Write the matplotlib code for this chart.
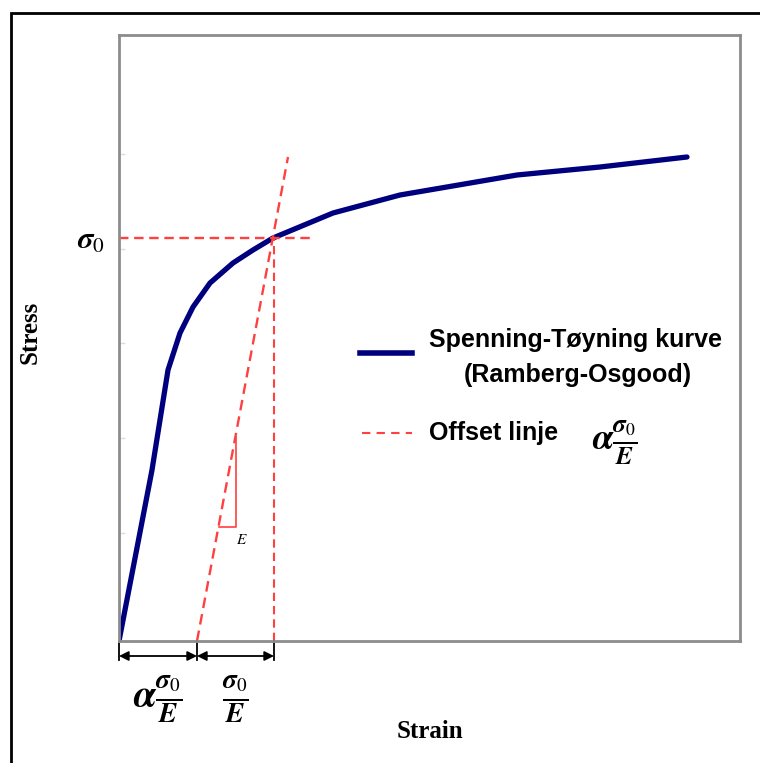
import matplotlib.pyplot as plt
from matplotlib.patches import Rectangle

plt.rcParams["mathtext.fontset"] = "stix"

# stress-strain curve (Ramberg-Osgood)
strain = [0, 17, 33, 41, 49, 61, 74, 91, 114, 134, 154, 178, 214, 281, 398, 481, 568]
stress = [0, 88, 171, 221, 271, 308, 334, 358, 378, 391, 403, 413, 428, 446, 466, 474, 484]

# offset line endpoints
offset_strain = [78, 169]
offset_stress = [0, 484]

sigma0 = 403
eps_offset = 78
eps_yield = 155

blue = "#00007f"
red = "#ff4040"

fig = plt.figure(figsize=(7.6, 7.63), dpi=100)
fig.patches.append(Rectangle((11 / 760, -0.1), 2, 1.1 - 13 / 763,
                             transform=fig.transFigure, fill=False,
                             edgecolor="black", linewidth=2))

ax = fig.add_axes([119 / 760, 1 - 641 / 763, 621 / 760, 606 / 763])
ax.set_xlim(0, 621)
ax.set_ylim(0, 606)
for s in ax.spines.values():
    s.set_color("#8c8c8c")
    s.set_linewidth(2)
ax.set_xticks([])
ax.set_yticks([108, 203, 298, 392, 487])
ax.set_yticklabels([])
ax.tick_params(axis="y", direction="in", length=4, color="#dddddd", width=1)

ax.plot(strain, stress, color=blue, linewidth=3.8, solid_capstyle="round",
        solid_joinstyle="round")
ax.plot(offset_strain, offset_stress, color=red, linewidth=1.7, dashes=(4.5, 2.6))
ax.plot([0, 196], [sigma0, sigma0], color=red, linewidth=1.7, dashes=(4, 2.4))
ax.plot([eps_yield, eps_yield], [0, sigma0], color=red, linewidth=1.5, dashes=(4, 2.4))

# small slope triangle
ax.plot([100, 117, 117], [114, 114, 204], color=red, linewidth=1.2)
ax.text(123, 101, r"$E$", fontsize=11, ha="center", va="center")

# sigma_0 label
ax.text(-28, sigma0 - 3, r"$\boldsymbol{\sigma}_{\mathrm{0}}$", fontsize=22,
        ha="center", va="center")

# dimension arrows under the axis
for x in [0, eps_offset, eps_yield]:
    ax.plot([x, x], [0, -19], color="black", linewidth=1.3, clip_on=False)
for a, b in [(0, eps_offset), (eps_offset, eps_yield)]:
    ax.annotate("", xy=(b, -15), xytext=(a, -15), annotation_clip=False,
                arrowprops=dict(arrowstyle="<|-|>", color="black", lw=1.3,
                                mutation_scale=14, shrinkA=0, shrinkB=0))
ax.text(eps_offset / 2, -58,
        r"$\boldsymbol{\alpha}\frac{\boldsymbol{\sigma}_{\mathrm{0}}}{\boldsymbol{E}}$",
        fontsize=28, ha="center", va="center")
ax.text((eps_offset + eps_yield) / 2, -58,
        r"$\frac{\boldsymbol{\sigma}_{\mathrm{0}}}{\boldsymbol{E}}$",
        fontsize=28, ha="center", va="center")

# axis labels
fig.text(30 / 760, 1 - 332 / 763, "Stress", rotation=90, family="Liberation Serif",
         fontweight="bold", fontsize=18, ha="center", va="center")
fig.text(430 / 760, 1 - 732 / 763, "Strain", family="Liberation Serif",
         fontweight="bold", fontsize=18, ha="center", va="center")

# legend, drawn by hand
ax.plot([241, 293], [288, 288], color=blue, linewidth=4)
ax.text(310, 301, "Spenning-Tøyning kurve", family="Liberation Sans",
        fontweight="bold", fontsize=18, ha="left", va="center")
ax.text(459, 266, "(Ramberg-Osgood)", family="Liberation Sans",
        fontweight="bold", fontsize=18, ha="center", va="center")
ax.plot([243, 293], [208, 208], color=red, linewidth=1.5, dashes=(4, 3))
ax.text(310, 208, "Offset linje", family="Liberation Sans",
        fontweight="bold", fontsize=18, ha="left", va="center")
ax.text(496, 198,
        r"$\boldsymbol{\alpha}\frac{\boldsymbol{\sigma}_{\mathrm{0}}}{\boldsymbol{E}}$",
        fontsize=26, ha="center", va="center")

fig.savefig("out.png", dpi=100)
